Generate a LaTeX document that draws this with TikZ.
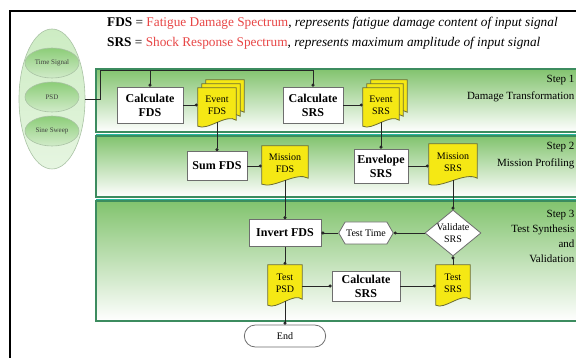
\documentclass[tikz,border=0pt]{standalone}
\usepackage{fontspec}
\setmainfont{Liberation Serif}
\usetikzlibrary{arrows.meta,shapes.geometric,shapes.misc,shapes.symbols,calc}
\pgfdeclarelayer{bands}
\pgfdeclarelayer{docs}
\pgfsetlayers{bands,docs,main}
\definecolor{bandtop}{RGB}{130,195,110}
\definecolor{bandline}{RGB}{60,140,95}
\definecolor{docfill}{RGB}{245,232,20}
\definecolor{docline}{RGB}{110,110,50}
\definecolor{boxline}{RGB}{110,110,110}
\definecolor{redtxt}{RGB}{232,70,70}
\definecolor{ellfill}{RGB}{205,236,195}
\definecolor{ellin}{RGB}{140,205,120}
\definecolor{ellborder}{RGB}{170,195,165}
\newcommand{\drawdoc}[3]{%
 \draw[docshape,#3] ([xshift=#2,yshift=#2]#1.north west) -- ([xshift=#2,yshift=#2]#1.north east)
   -- ([xshift=#2,yshift=#2+2pt]#1.south east)
   .. controls ($(#1.south)!0.5!(#1.south east)+(#2,#2+9pt)$) and ($(#1.south)!0.5!(#1.south west)+(#2,#2-9pt)$)
   .. ([xshift=#2,yshift=#2-4pt]#1.south west) -- cycle;}
\begin{document}
\begin{tikzpicture}[x=1pt,y=-1pt,
  boxnode/.style={draw=boxline,fill=white,line width=0.8pt,align=center,inner sep=1pt,
     font=\fontsize{12}{14}\selectfont\bfseries},
  docnode/.style={align=center,inner sep=0pt,font=\fontsize{10}{12}\selectfont},
  docshape/.style={draw=docline,fill=docfill,line width=0.8pt},
  conn/.style={draw=black!85,line width=0.8pt,-{Circle[length=3pt]}},
  band/.style={draw=bandline,line width=1.6pt,top color=bandtop,bottom color=white},
  steplbl/.style={anchor=north east,align=right,font=\fontsize{11}{17}\selectfont},
  ellout/.style={ellipse,draw=ellborder,line width=0.6pt,top color=ellfill,bottom color=ellfill!50!white},
  ellinner/.style={ellipse,draw=ellborder,line width=0.6pt,top color=ellin,bottom color=ellin!40!white,
     minimum width=54pt,minimum height=30pt,inner sep=0pt,font=\fontsize{7}{8}\selectfont,text=black!75}
]
\useasboundingbox (0,0) rectangle (576,358);
\begin{pgfonlayer}{bands}
\fill[white] (0,0) rectangle (576,358);
\draw[black,line width=1.2pt] (10,360) -- (10,11) -- (580,11);
\path[band] (96,69) rectangle (590,132);
\path[band] (96,136) rectangle (590,197);
\path[band] (96,201) rectangle (590,321);
\draw[bandline!60!cyan,line width=0.6pt] (96,134) -- (590,134) (96,199) -- (590,199);
\end{pgfonlayer}

% header
\node[anchor=west,inner sep=0pt,font=\fontsize{13.3}{15}\selectfont] (hdr1) at (107,23)
  {\textbf{FDS} = \textcolor{redtxt}{Fatigue Damage Spectrum}, \textit{represents fatigue damage content of input signal}};
\node[anchor=west,inner sep=0pt,font=\fontsize{13.3}{15}\selectfont] (hdr2) at (107,43)
  {\textbf{SRS} = \textcolor{redtxt}{Shock Response Spectrum}, \textit{represents maximum amplitude of input signal}};

\node[steplbl] (s1) at (578,72) {Step 1\\Damage Transformation};
\node[steplbl] (s2) at (578,139) {Step 2\\Mission Profiling};
\node[steplbl,font=\fontsize{11}{15}\selectfont] (s3) at (578,207) {Step 3\\Test Synthesis\\and\\Validation};

% input ellipses
\node[ellout,minimum width=66pt,minimum height=140pt] (bigell) at (52,99) {};
\node[ellinner] (ellts) at (52,63) {Time Signal};
\node[ellinner] (ellpsd) at (52,97) {PSD};
\node[ellinner] (ellss) at (52,131) {Sine Sweep};

% step 1
\node[boxnode,minimum width=66pt,minimum height=36pt] (calcfds) at (150,105) {Calculate\\FDS};
\node[boxnode,minimum width=60pt,minimum height=36pt] (calcsrs) at (313,105) {Calculate\\SRS};
\node[docnode,minimum width=38pt,minimum height=34pt] (evfds) at (217,105) {Event\\FDS};
\node[docnode,minimum width=36pt,minimum height=34pt] (evsrs) at (381,105) {Event\\SRS};
% step 2
\node[boxnode,minimum width=60pt,minimum height=29pt] (sumfds) at (217,166) {Sum FDS};
\node[docnode,minimum width=46pt,minimum height=34pt] (misfds) at (285,163) {Mission\\FDS};
\node[boxnode,minimum width=54pt,minimum height=34pt] (envsrs) at (381,166) {Envelope\\SRS};
\node[docnode,minimum width=48pt,minimum height=36pt] (missrs) at (453,162) {Mission\\SRS};
% step 3
\node[boxnode,minimum width=72pt,minimum height=27pt] (invfds) at (285,233) {Invert FDS};
\node[signal,signal to=east and west,signal pointer angle=120,draw=boxline,fill=white,line width=0.8pt,
      minimum width=54pt,minimum height=22pt,inner sep=1pt,font=\fontsize{10}{12}\selectfont] (testtime) at (366,233) {Test Time};
\node[diamond,draw=boxline,fill=white,line width=0.8pt,minimum width=56pt,minimum height=46pt,inner sep=0pt] (valsrs) at (453,233) {};
\node[align=center,inner sep=0pt,font=\fontsize{10}{12}\selectfont] (valtxt) at (453,233) {Validate\\SRS};
\node[docnode,minimum width=34pt,minimum height=36pt] (testpsd) at (285,283) {Test\\PSD};
\node[boxnode,minimum width=68pt,minimum height=30pt] (calcsrs2) at (366,286) {Calculate\\SRS};
\node[docnode,minimum width=34pt,minimum height=36pt] (testsrs) at (453,283) {Test\\SRS};
\node[rounded rectangle,draw=boxline,fill=white,line width=0.8pt,minimum width=88pt,minimum height=22pt,
      font=\fontsize{10}{12}\selectfont] (endn) at (285,336) {End};

% connectors
\coordinate (j0) at (100,99);
\coordinate (j1) at (100,70);
\coordinate (j2) at (150,70);
\draw[conn] (bigell.east) -- (j0) -- (j1) -| (calcsrs.north);
\draw[conn] (j2) -- (calcfds.north);
\draw[conn] (calcfds.east) -- (evfds.west);
\draw[conn] (calcsrs.east) -- (evsrs.west);
\draw[conn] (evfds.south) -- (sumfds.north);
\draw[conn] (evsrs.south) -- (envsrs.north);
\draw[conn] (sumfds.east) -- (sumfds.east -| misfds.west);
\draw[conn] (envsrs.east) -- (envsrs.east -| missrs.west);
\draw[conn] (misfds.south) -- (invfds.north);
\draw[conn] (missrs.south) -- (valsrs.north);
\draw[conn] (valsrs.west) -- (testtime.east);
\draw[conn] (testtime.west) -- (invfds.east);
\draw[conn] (invfds.south) -- (testpsd.north);
\draw[conn] (testpsd.east |- calcsrs2.west) -- (calcsrs2.west);
\draw[conn] (calcsrs2.east) -- (calcsrs2.east -| testsrs.west);
\draw[conn] (testsrs.north) -- (valsrs.south);
\draw[conn] (testpsd.south) -- (endn.north);

\begin{pgfonlayer}{docs}
\drawdoc{evfds}{8pt}{}
\drawdoc{evfds}{4pt}{}
\drawdoc{evfds}{0pt}{}
\drawdoc{evsrs}{8pt}{}
\drawdoc{evsrs}{4pt}{}
\drawdoc{evsrs}{0pt}{}
\drawdoc{misfds}{0pt}{}
\drawdoc{missrs}{0pt}{}
\drawdoc{testpsd}{0pt}{}
\drawdoc{testsrs}{0pt}{}
\end{pgfonlayer}
\end{tikzpicture}
\end{document}
